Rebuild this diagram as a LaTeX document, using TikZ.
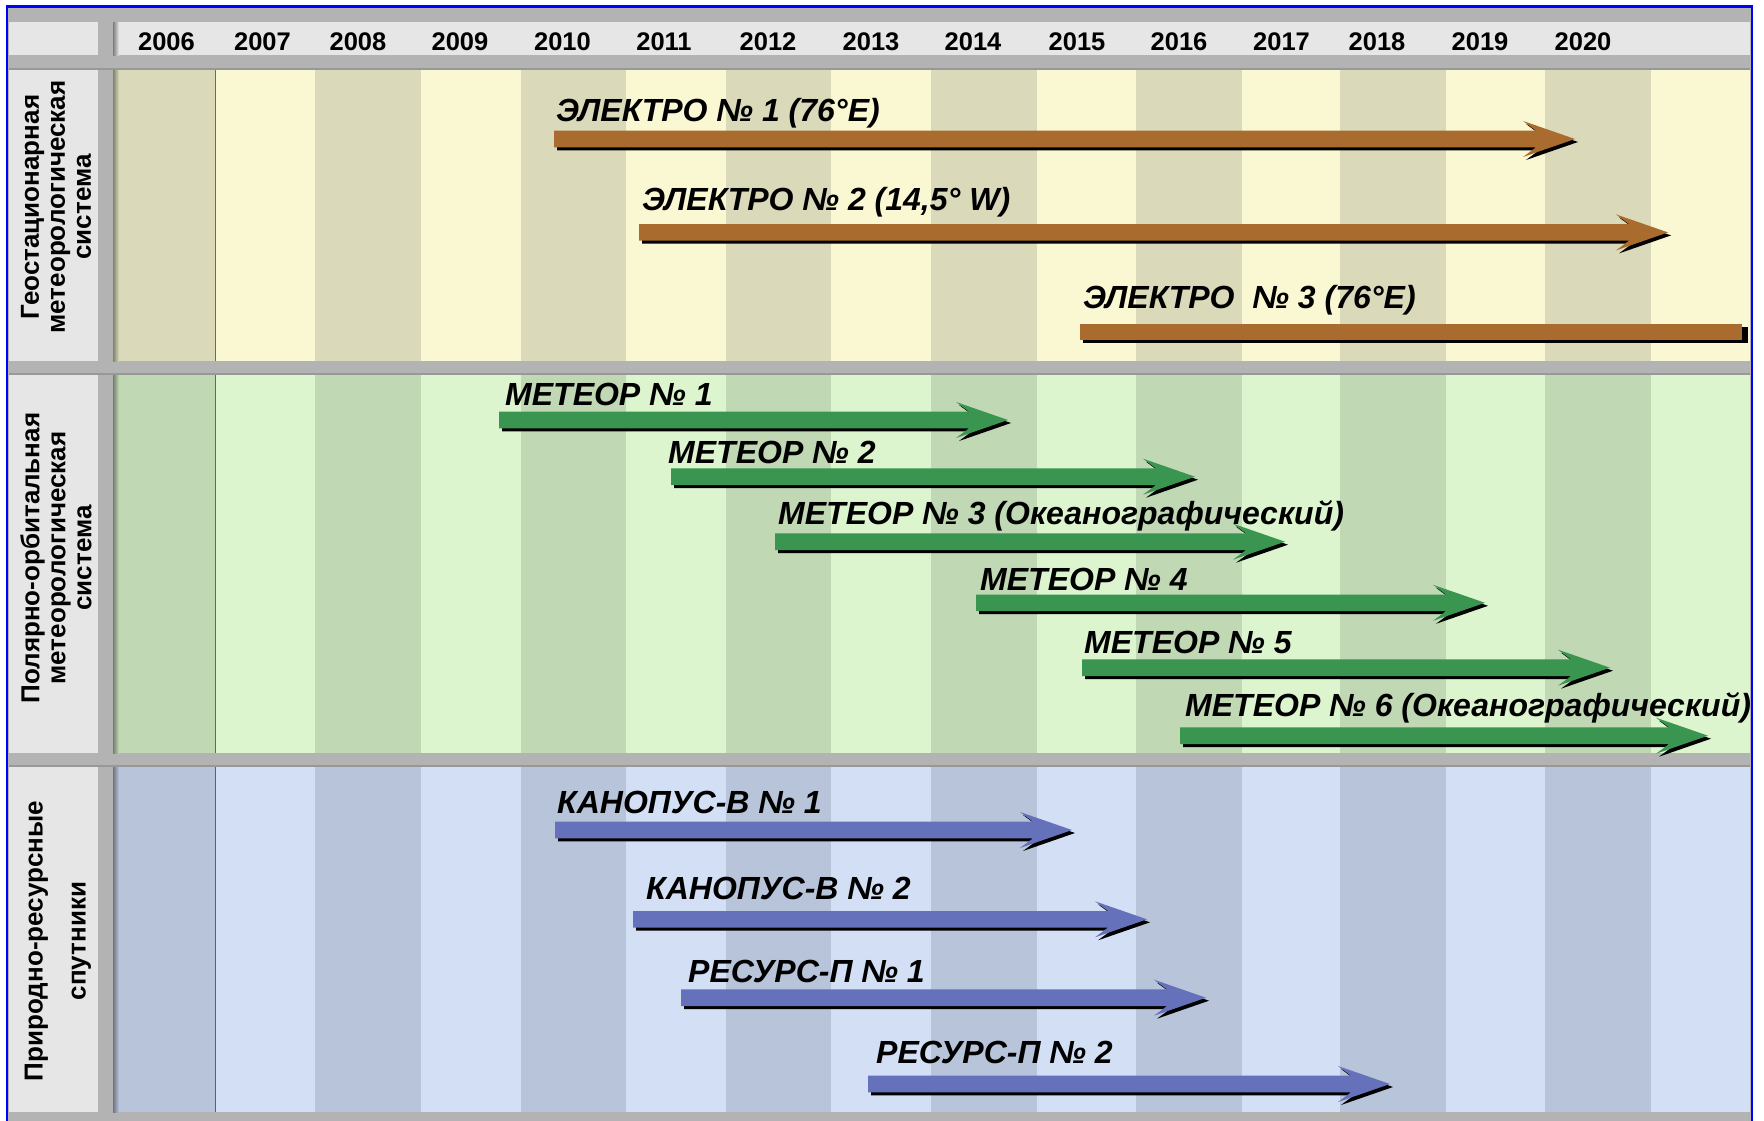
\documentclass[tikz,border=0pt]{standalone}
\usepackage{fontspec}
\setmainfont{Liberation Sans}
\definecolor{grayband}{HTML}{B3B3B3}
\definecolor{cellgray}{HTML}{E6E6E6}
\definecolor{yD}{HTML}{DAD9B9}
\definecolor{yL}{HTML}{FAF7D3}
\definecolor{gD}{HTML}{C1D8B4}
\definecolor{gL}{HTML}{DCF5CF}
\definecolor{bD}{HTML}{B8C4D9}
\definecolor{bL}{HTML}{D3DFF5}
\definecolor{brownA}{HTML}{AA6B2E}
\definecolor{greenA}{HTML}{3A9550}
\definecolor{blueA}{HTML}{6572BB}
\definecolor{frameblue}{HTML}{0000FF}
\newcommand\drawsection[4]{%
  \fill[cellgray] (9,#1) rectangle (98,#2);
  \foreach \a/\b [count=\i] in {113/215,215/315,315/421,421/520.5,520.5/626,626/725.5,725.5/831,831/930.5,930.5/1036.5,1036.5/1136,1136/1241.5,1241.5/1340,1340/1446,1446/1545,1545/1650.5,1650.5/1750}{%
    \ifodd\i \fill[#3] (\a,#1) rectangle (\b,#2); \else \fill[#4] (\a,#1) rectangle (\b,#2); \fi
  }
  \shade[left color=black!40!#3, right color=#3] (113,#1) rectangle (119,#2);
  \draw[black!50!#3, line width=1pt] (215,#1) -- (215,#2);
  \fill[black!15!grayband] (9,#1-2) rectangle (1750,#1);
}
\newcommand\satarrow[4]{% left, centre, tip, colour
  \pgfmathsetmacro\satHT{#2-8.3}\pgfmathsetmacro\satHB{#2+8.3}%
  \pgfmathsetmacro\satBT{#2-18}\pgfmathsetmacro\satBB{#2+18}%
  \pgfmathsetmacro\satBX{#3-52}\pgfmathsetmacro\satJX{#3-39}%
  \foreach \dx/\dy/\cc in {3/3/black,0/0/#4}{%
    \fill[\cc, shift={(\dx,\dy)}] (#1,\satHT) -- (\satJX,\satHT) -- (\satBX,\satBT) -- (#3,#2)
      -- (\satBX,\satBB) -- (\satJX,\satHB) -- (#1,\satHB) -- cycle;
  }
}
\begin{document}
\begin{tikzpicture}[x=1pt,y=-1pt,
  lbl/.style={anchor=base west, inner sep=0pt, font=\fontsize{32}{32}\selectfont\bfseries\itshape},
  yr/.style={anchor=base, inner sep=0pt, font=\fontsize{25.5}{25.5}\selectfont\bfseries},
  side/.style={rotate=90, align=center, inner sep=0pt, font=\fontsize{26}{26}\selectfont\bfseries}]
\useasboundingbox (0,0) rectangle (1764,1120);
\fill[white] (0,0) rectangle (1764,1120);
\fill[grayband] (7,7) rectangle (1751,1125);
% header
\fill[cellgray] (9,22) rectangle (98,55);
\fill[cellgray] (113,22) rectangle (1750,55);
\shade[left color=black!45!cellgray, right color=cellgray] (113,22) rectangle (119,55);
\foreach \yy/\xx in {2006/166.5,2007/262.5,2008/358,2009/460,2010/562.5,2011/664,2012/768,2013/871,2014/973,2015/1077,2016/1179,2017/1281.5,2018/1377,2019/1480,2020/1583}{
  \node[yr] (y\yy) at (\xx,50) {\yy};
}
% sections
\drawsection{70}{361}{yD}{yL}
\drawsection{375}{753}{gD}{gL}
\drawsection{767}{1112}{bD}{bL}
% side labels
\node[side] (s1) at (56,207) {Геостационарная\\метеорологическая\\система};
\node[side] (s2) at (56,558) {Полярно-орбитальная\\метеорологическая\\система};
\node[side, font=\fontsize{26}{43}\selectfont\bfseries] (s3) at (58,941) {Природно-ресурсные\\спутники};
% geostationary
\node[lbl] (e1) at (556,121) {ЭЛЕКТРО № 1 (76°E)};
\satarrow{554}{139}{1575}{brownA}
\node[lbl] (e2) at (642,210.7) {ЭЛЕКТРО № 2 (14,5° W)};
\satarrow{639}{232.4}{1668}{brownA}
\node[lbl] (e3) at (1083,308) {ЭЛЕКТРО\ \ № 3 (76°E)};
\fill[black] (1083,327) rectangle (1748,343);
\fill[brownA] (1080,324) rectangle (1742,340);
% polar
\node[lbl] (m1) at (505,405.7) {МЕТЕОР № 1};
\satarrow{499}{420}{1008}{greenA}
\node[lbl] (m2) at (668,463.3) {МЕТЕОР № 2};
\satarrow{671}{476.7}{1195}{greenA}
\node[lbl] (m3) at (778,524) {МЕТЕОР № 3 (Океанографический)};
\satarrow{775}{541.7}{1285}{greenA}
\node[lbl] (m4) at (980,590) {МЕТЕОР № 4};
\satarrow{976}{602.8}{1485}{greenA}
\node[lbl] (m5) at (1084,653.3) {МЕТЕОР № 5};
\satarrow{1082}{667.7}{1610}{greenA}
\node[lbl] (m6) at (1185,716.7) {МЕТЕОР № 6 (Океанографический)};
\satarrow{1180}{735.7}{1708}{greenA}
% resources
\node[lbl] (k1) at (557,813.3) {КАНОПУС-В № 1};
\satarrow{555}{830}{1072}{blueA}
\node[lbl] (k2) at (646,899) {КАНОПУС-В № 2};
\satarrow{633}{919.3}{1147}{blueA}
\node[lbl] (r1) at (688,982.7) {РЕСУРС-П № 1};
\satarrow{681}{997.7}{1206}{blueA}
\node[lbl] (r2) at (876,1063.3) {РЕСУРС-П № 2};
\satarrow{868}{1084}{1390}{blueA}
% frame
\draw[frameblue, line width=2.5pt] (7,6.5) rectangle (1752,1130);
\end{tikzpicture}
\end{document}
